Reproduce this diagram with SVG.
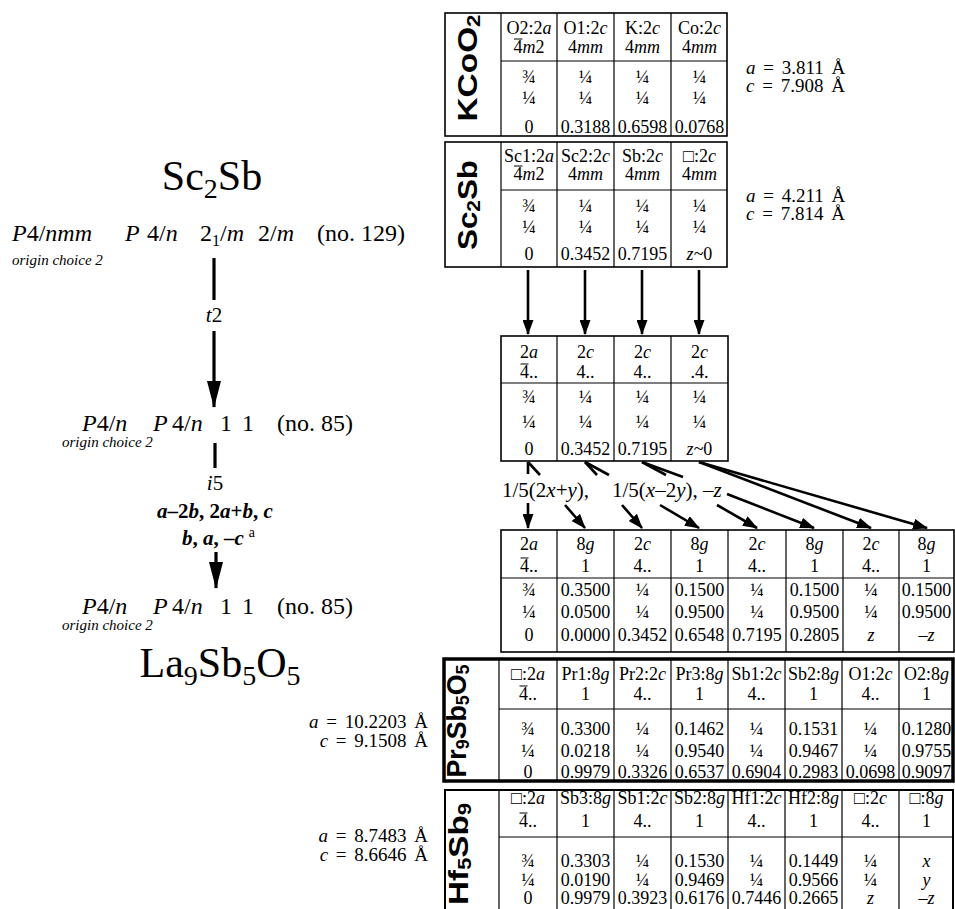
<svg xmlns="http://www.w3.org/2000/svg" width="955" height="909" viewBox="0 0 955 909">
<style>
text{font-family:"Liberation Serif","Times New Roman",serif;fill:#000}
.c{font-size:18px;text-anchor:middle}
.i{font-style:italic}
.ovl{stroke:#000;stroke-width:1;fill:none}
.lbl{font-family:"Liberation Sans",Arial,sans-serif;font-weight:bold;font-size:27px;text-anchor:middle}
.box{fill:#fff;stroke:#000;stroke-width:1.6}
.thick{fill:#fff;stroke:#000;stroke-width:3.5}
.hbox{fill:#fff;stroke:#000;stroke-width:2}
.grid{stroke:#000;stroke-width:1.2;fill:none}
.arr{stroke:#000;stroke-width:2.6;fill:none}
.arrL{stroke:#000;stroke-width:3.2;fill:none}
.big{font-size:42px}
.sg{font-size:24px}
.oc{font-size:15px;font-style:italic}
.lat{font-size:19px;word-spacing:3px}
.tr{font-size:21px}
.lab{font-size:21px;text-anchor:middle}
</style>
<defs>
<marker id="ah" markerUnits="userSpaceOnUse" markerWidth="15" markerHeight="11" refX="14" refY="5.5" orient="auto"><path d="M0,0 L15,5.5 L0,11 z" fill="#000"/></marker>
<marker id="ahL" markerUnits="userSpaceOnUse" markerWidth="27" markerHeight="14" refX="26" refY="7" orient="auto"><path d="M0,0 L27,7 L0,14 z" fill="#000"/></marker>
</defs>

<!-- Left: group-subgroup tree -->
<g id="tree-Sc2Sb">
<text class="big" x="212" y="190" text-anchor="middle">Sc<tspan font-size="28" dy="8">2</tspan><tspan dy="-8">Sb</tspan></text>
<text class="sg" x="12" y="241"><tspan class="i">P</tspan>4/<tspan class="i">nmm</tspan></text>
<text class="sg" y="241"><tspan class="i" x="125">P</tspan><tspan x="147">4/</tspan><tspan class="i">n</tspan><tspan x="200">2</tspan><tspan font-size="16" dy="5">1</tspan><tspan dy="-5">/</tspan><tspan class="i">m</tspan><tspan x="258">2/</tspan><tspan class="i">m</tspan></text>
<text class="sg" x="317" y="241">(no. 129)</text>
<text class="oc" x="12" y="265">origin choice 2</text>
</g>
<g id="tree-P4n-1">
<text class="sg" x="82" y="431"><tspan class="i">P</tspan>4/<tspan class="i">n</tspan></text>
<text class="sg" y="431"><tspan class="i" x="153">P</tspan><tspan x="172">4/</tspan><tspan class="i">n</tspan><tspan x="220">1</tspan><tspan x="242">1</tspan></text>
<text class="sg" x="277" y="431">(no. 85)</text>
<text class="oc" x="62" y="447">origin choice 2</text>
</g>
<g id="tree-P4n-2">
<text class="sg" x="82" y="614"><tspan class="i">P</tspan>4/<tspan class="i">n</tspan></text>
<text class="sg" y="614"><tspan class="i" x="153">P</tspan><tspan x="172">4/</tspan><tspan class="i">n</tspan><tspan x="220">1</tspan><tspan x="242">1</tspan></text>
<text class="sg" x="277" y="614">(no. 85)</text>
<text class="oc" x="62" y="630">origin choice 2</text>
<text class="big" x="220" y="677" text-anchor="middle">La<tspan font-size="28" dy="8">9</tspan><tspan dy="-8">Sb</tspan><tspan font-size="28" dy="8">5</tspan><tspan dy="-8">O</tspan><tspan font-size="28" dy="8">5</tspan></text>
</g>
<g id="tree-labels">
<text class="lab" x="214" y="322"><tspan class="i">t</tspan>2</text>
<text class="lab" x="215" y="490"><tspan class="i">i</tspan>5</text>
<text class="lab" x="215" y="518" font-weight="bold"><tspan class="i">a</tspan>–2<tspan class="i">b</tspan>, 2<tspan class="i">a</tspan>+<tspan class="i">b</tspan>, <tspan class="i">c</tspan></text>
<text class="tr" x="182" y="545" font-weight="bold"><tspan class="i">b</tspan>, <tspan class="i">a</tspan>, –<tspan class="i">c</tspan><tspan font-weight="normal" font-size="14" dx="5" dy="-8">a</tspan></text>
</g>

<!-- KCoO2 -->
<g id="KCoO2">
<rect class="box" x="445" y="13" width="282" height="123"/>
<path class="grid" d="M501,13V136M557,13V136M614,13V136M671,13V136M501,61H727"/>
<path class="ovl" d="M514,39H522.5"/>
<text class="lbl" transform="translate(477,68) rotate(-90)" textLength="107" lengthAdjust="spacingAndGlyphs">KCoO<tspan font-size="18" dy="3">2</tspan></text>
<text class="c" y="34"><tspan x="529">O2:2</tspan><tspan class="i">a</tspan><tspan x="585.5">O1:2</tspan><tspan class="i">c</tspan><tspan x="642.5">K:2</tspan><tspan class="i">c</tspan><tspan x="699.5">Co:2</tspan><tspan class="i">c</tspan></text>
<text class="c" y="53"><tspan x="529">4</tspan><tspan class="i">m</tspan>2<tspan x="585.5">4</tspan><tspan class="i">mm</tspan><tspan x="642.5">4</tspan><tspan class="i">mm</tspan><tspan x="699.5">4</tspan><tspan class="i">mm</tspan></text>
<text class="c" y="83"><tspan x="529">¾</tspan><tspan x="585.5">¼</tspan><tspan x="642.5">¼</tspan><tspan x="699.5">¼</tspan></text>
<text class="c" y="104"><tspan x="529">¼</tspan><tspan x="585.5">¼</tspan><tspan x="642.5">¼</tspan><tspan x="699.5">¼</tspan></text>
<text class="c" y="133"><tspan x="529">0</tspan><tspan x="585.5">0.3188</tspan><tspan x="642.5">0.6598</tspan><tspan x="699.5">0.0768</tspan></text>
<text class="lat" x="746" y="74"><tspan class="i">a</tspan> = 3.811 Å</text>
<text class="lat" x="746" y="92"><tspan class="i">c</tspan> = 7.908 Å</text>
</g>

<!-- Sc2Sb -->
<g id="Sc2Sb">
<rect class="box" x="445" y="142" width="282" height="125"/>
<path class="grid" d="M501,142V267M557,142V267M614,142V267M671,142V267M501,190H727"/>
<path class="ovl" d="M514,166H522.5"/>
<text class="lbl" transform="translate(477,205) rotate(-90)" textLength="90" lengthAdjust="spacingAndGlyphs">Sc<tspan font-size="18" dy="3">2</tspan><tspan dy="-3">Sb</tspan></text>
<text class="c" y="162"><tspan x="529">Sc1:2</tspan><tspan class="i">a</tspan><tspan x="585.5">Sc2:2</tspan><tspan class="i">c</tspan><tspan x="642.5">Sb:2</tspan><tspan class="i">c</tspan><tspan x="699.5">□:2</tspan><tspan class="i">c</tspan></text>
<text class="c" y="180"><tspan x="529">4</tspan><tspan class="i">m</tspan>2<tspan x="585.5">4</tspan><tspan class="i">mm</tspan><tspan x="642.5">4</tspan><tspan class="i">mm</tspan><tspan x="699.5">4</tspan><tspan class="i">mm</tspan></text>
<text class="c" y="212"><tspan x="529">¾</tspan><tspan x="585.5">¼</tspan><tspan x="642.5">¼</tspan><tspan x="699.5">¼</tspan></text>
<text class="c" y="233"><tspan x="529">¼</tspan><tspan x="585.5">¼</tspan><tspan x="642.5">¼</tspan><tspan x="699.5">¼</tspan></text>
<text class="c" y="260"><tspan x="529">0</tspan><tspan x="585.5">0.3452</tspan><tspan x="642.5">0.7195</tspan><tspan x="699.5" class="i">z</tspan>~0</text>
<text class="lat" x="746" y="202"><tspan class="i">a</tspan> = 4.211 Å</text>
<text class="lat" x="746" y="220"><tspan class="i">c</tspan> = 7.814 Å</text>
</g>

<!-- intermediate P4/n table -->
<g id="P4n-sites">
<rect class="box" x="501" y="336" width="227" height="125"/>
<path class="grid" d="M557,336V461M614,336V461M671,336V461M501,383H728"/>
<path class="ovl" d="M520.5,364H528.5"/>
<text class="c" y="358"><tspan x="529">2</tspan><tspan class="i">a</tspan><tspan x="585.5">2</tspan><tspan class="i">c</tspan><tspan x="642.5">2</tspan><tspan class="i">c</tspan><tspan x="699.5">2</tspan><tspan class="i">c</tspan></text>
<text class="c" y="378"><tspan x="529">4..</tspan><tspan x="585.5">4..</tspan><tspan x="642.5">4..</tspan><tspan x="699.5">.4.</tspan></text>
<text class="c" y="403"><tspan x="529">¾</tspan><tspan x="585.5">¼</tspan><tspan x="642.5">¼</tspan><tspan x="699.5">¼</tspan></text>
<text class="c" y="428"><tspan x="529">¼</tspan><tspan x="585.5">¼</tspan><tspan x="642.5">¼</tspan><tspan x="699.5">¼</tspan></text>
<text class="c" y="455"><tspan x="529">0</tspan><tspan x="585.5">0.3452</tspan><tspan x="642.5">0.7195</tspan><tspan x="699.5" class="i">z</tspan>~0</text>
</g>

<!-- La9Sb5O5 sites table -->
<g id="La9Sb5O5-sites">
<rect class="box" x="501" y="530" width="453" height="122"/>
<path class="grid" d="M557,530V652M614,530V652M671,530V652M728,530V652M786,530V652M843,530V652M899,530V652M501,578H954"/>
<path class="ovl" d="M520.5,558H528.5"/>
<text class="c" y="550"><tspan x="529">2</tspan><tspan class="i">a</tspan><tspan x="585.5">8</tspan><tspan class="i">g</tspan><tspan x="642.5">2</tspan><tspan class="i">c</tspan><tspan x="699.5">8</tspan><tspan class="i">g</tspan><tspan x="757">2</tspan><tspan class="i">c</tspan><tspan x="814.5">8</tspan><tspan class="i">g</tspan><tspan x="871">2</tspan><tspan class="i">c</tspan><tspan x="926.5">8</tspan><tspan class="i">g</tspan></text>
<text class="c" y="572"><tspan x="529">4..</tspan><tspan x="585.5">1</tspan><tspan x="642.5">4..</tspan><tspan x="699.5">1</tspan><tspan x="757">4..</tspan><tspan x="814.5">1</tspan><tspan x="871">4..</tspan><tspan x="926.5">1</tspan></text>
<text class="c" y="596"><tspan x="529">¾</tspan><tspan x="585.5">0.3500</tspan><tspan x="642.5">¼</tspan><tspan x="699.5">0.1500</tspan><tspan x="757">¼</tspan><tspan x="814.5">0.1500</tspan><tspan x="871">¼</tspan><tspan x="926.5">0.1500</tspan></text>
<text class="c" y="618"><tspan x="529">¼</tspan><tspan x="585.5">0.0500</tspan><tspan x="642.5">¼</tspan><tspan x="699.5">0.9500</tspan><tspan x="757">¼</tspan><tspan x="814.5">0.9500</tspan><tspan x="871">¼</tspan><tspan x="926.5">0.9500</tspan></text>
<text class="c" y="641"><tspan x="529">0</tspan><tspan x="585.5">0.0000</tspan><tspan x="642.5">0.3452</tspan><tspan x="699.5">0.6548</tspan><tspan x="757">0.7195</tspan><tspan x="814.5">0.2805</tspan><tspan x="871" class="i">z</tspan><tspan x="926.5">–</tspan><tspan class="i">z</tspan></text>
</g>

<!-- Pr9Sb5O5 -->
<g id="Pr9Sb5O5">
<rect class="thick" x="444" y="659" width="509" height="122"/>
<path class="grid" d="M499,659V781M557,659V781M614,659V781M671,659V781M728,659V781M785,659V781M842,659V781M899,659V781M499,709H953"/>
<path class="ovl" d="M519.5,686H527.5"/>
<text class="lbl" transform="translate(466,721) rotate(-90)" textLength="113" lengthAdjust="spacingAndGlyphs">Pr<tspan font-size="18" dy="3">9</tspan><tspan dy="-3">Sb</tspan><tspan font-size="18" dy="3">5</tspan><tspan dy="-3">O</tspan><tspan font-size="18" dy="3">5</tspan></text>
<text class="c" y="680"><tspan x="528">□:2</tspan><tspan class="i">a</tspan><tspan x="585.5">Pr1:8</tspan><tspan class="i">g</tspan><tspan x="642.5">Pr2:2</tspan><tspan class="i">c</tspan><tspan x="699.5">Pr3:8</tspan><tspan class="i">g</tspan><tspan x="756.5">Sb1:2</tspan><tspan class="i">c</tspan><tspan x="813.5">Sb2:8</tspan><tspan class="i">g</tspan><tspan x="870.5">O1:2</tspan><tspan class="i">c</tspan><tspan x="926.5">O2:8</tspan><tspan class="i">g</tspan></text>
<text class="c" y="700"><tspan x="528">4..</tspan><tspan x="585.5">1</tspan><tspan x="642.5">4..</tspan><tspan x="699.5">1</tspan><tspan x="756.5">4..</tspan><tspan x="813.5">1</tspan><tspan x="870.5">4..</tspan><tspan x="926.5">1</tspan></text>
<text class="c" y="735"><tspan x="528">¾</tspan><tspan x="585.5">0.3300</tspan><tspan x="642.5">¼</tspan><tspan x="699.5">0.1462</tspan><tspan x="756.5">¼</tspan><tspan x="813.5">0.1531</tspan><tspan x="870.5">¼</tspan><tspan x="926.5">0.1280</tspan></text>
<text class="c" y="757"><tspan x="528">¼</tspan><tspan x="585.5">0.0218</tspan><tspan x="642.5">¼</tspan><tspan x="699.5">0.9540</tspan><tspan x="756.5">¼</tspan><tspan x="813.5">0.9467</tspan><tspan x="870.5">¼</tspan><tspan x="926.5">0.9755</tspan></text>
<text class="c" y="778"><tspan x="528">0</tspan><tspan x="585.5">0.9979</tspan><tspan x="642.5">0.3326</tspan><tspan x="699.5">0.6537</tspan><tspan x="756.5">0.6904</tspan><tspan x="813.5">0.2983</tspan><tspan x="870.5">0.0698</tspan><tspan x="926.5">0.9097</tspan></text>
<text class="lat" x="428" y="728" text-anchor="end"><tspan class="i">a</tspan> = 10.2203 Å</text>
<text class="lat" x="428" y="747" text-anchor="end"><tspan class="i">c</tspan> = 9.1508 Å</text>
</g>

<!-- Hf5Sb9 -->
<g id="Hf5Sb9">
<rect class="hbox" x="445" y="790" width="508" height="125"/>
<path class="grid" d="M499,790V915M557,790V915M614,790V915M671,790V915M728,790V915M785,790V915M842,790V915M899,790V915M499,837H953"/>
<path class="ovl" d="M519.5,813H527.5"/>
<text class="lbl" transform="translate(468,854) rotate(-90)" textLength="102" lengthAdjust="spacingAndGlyphs">Hf<tspan font-size="18" dy="3">5</tspan><tspan dy="-3">Sb</tspan><tspan font-size="18" dy="3">9</tspan></text>
<text class="c" y="804"><tspan x="528">□:2</tspan><tspan class="i">a</tspan><tspan x="585.5">Sb3:8</tspan><tspan class="i">g</tspan><tspan x="642.5">Sb1:2</tspan><tspan class="i">c</tspan><tspan x="699.5">Sb2:8</tspan><tspan class="i">g</tspan><tspan x="756.5">Hf1:2</tspan><tspan class="i">c</tspan><tspan x="813.5">Hf2:8</tspan><tspan class="i">g</tspan><tspan x="870.5">□:2</tspan><tspan class="i">c</tspan><tspan x="926.5">□:8</tspan><tspan class="i">g</tspan></text>
<text class="c" y="827"><tspan x="528">4..</tspan><tspan x="585.5">1</tspan><tspan x="642.5">4..</tspan><tspan x="699.5">1</tspan><tspan x="756.5">4..</tspan><tspan x="813.5">1</tspan><tspan x="870.5">4..</tspan><tspan x="926.5">1</tspan></text>
<text class="c" y="867"><tspan x="528">¾</tspan><tspan x="585.5">0.3303</tspan><tspan x="642.5">¼</tspan><tspan x="699.5">0.1530</tspan><tspan x="756.5">¼</tspan><tspan x="813.5">0.1449</tspan><tspan x="870.5">¼</tspan><tspan x="926.5" class="i">x</tspan></text>
<text class="c" y="886"><tspan x="528">¼</tspan><tspan x="585.5">0.0190</tspan><tspan x="642.5">¼</tspan><tspan x="699.5">0.9469</tspan><tspan x="756.5">¼</tspan><tspan x="813.5">0.9566</tspan><tspan x="870.5">¼</tspan><tspan x="926.5" class="i">y</tspan></text>
<text class="c" y="904"><tspan x="528">0</tspan><tspan x="585.5">0.9979</tspan><tspan x="642.5">0.3923</tspan><tspan x="699.5">0.6176</tspan><tspan x="756.5">0.7446</tspan><tspan x="813.5">0.2665</tspan><tspan x="870.5" class="i">z</tspan><tspan x="926.5">–</tspan><tspan class="i">z</tspan></text>
<text class="lat" x="428" y="842" text-anchor="end"><tspan class="i">a</tspan> = 8.7483 Å</text>
<text class="lat" x="428" y="861" text-anchor="end"><tspan class="i">c</tspan> = 8.6646 Å</text>
</g>

<!-- transformation label -->
<g id="transform-label">
<text class="tr" y="497"><tspan x="502">1/5(2</tspan><tspan class="i">x</tspan>+<tspan class="i">y</tspan>),<tspan x="612">1/5(</tspan><tspan class="i">x</tspan>–2<tspan class="i">y</tspan>),<tspan x="703">–</tspan><tspan class="i">z</tspan></text>
</g>

<!-- connectors -->
<g id="connectors">
<line class="arrL" x1="214" y1="258" x2="214" y2="300"/>
<line class="arrL" x1="214" y1="331" x2="214" y2="407" marker-end="url(#ahL)"/>
<line class="arrL" x1="215" y1="443" x2="215" y2="468"/>
<line class="arrL" x1="216" y1="552" x2="216" y2="588" marker-end="url(#ahL)"/>

<line class="arr" x1="528" y1="270" x2="528" y2="334" marker-end="url(#ah)"/>
<line class="arr" x1="585" y1="270" x2="585" y2="334" marker-end="url(#ah)"/>
<line class="arr" x1="642" y1="270" x2="642" y2="334" marker-end="url(#ah)"/>
<line class="arr" x1="699" y1="270" x2="699" y2="334" marker-end="url(#ah)"/>

<line class="arr" x1="528" y1="462" x2="528" y2="474"/>
<line class="arr" x1="528" y1="503" x2="528" y2="528" marker-end="url(#ah)"/>
<line class="arr" x1="528" y1="462" x2="540" y2="475"/>
<line class="arr" x1="565" y1="505" x2="585" y2="528" marker-end="url(#ah)"/>
<line class="arr" x1="585" y1="462" x2="597" y2="475"/>
<line class="arr" x1="622" y1="505" x2="642" y2="528" marker-end="url(#ah)"/>
<line class="arr" x1="585" y1="462" x2="609" y2="475"/>
<line class="arr" x1="660" y1="505" x2="699" y2="528" marker-end="url(#ah)"/>
<line class="arr" x1="642" y1="462" x2="666" y2="475"/>
<line class="arr" x1="717" y1="505" x2="757" y2="528" marker-end="url(#ah)"/>
<line class="arr" x1="642" y1="462" x2="683" y2="477"/>
<line class="arr" x1="727" y1="494" x2="814" y2="528" marker-end="url(#ah)"/>
<line class="arr" x1="699" y1="462" x2="871" y2="528" marker-end="url(#ah)"/>
<line class="arr" x1="699" y1="462" x2="927" y2="528" marker-end="url(#ah)"/>
</g>
</svg>
